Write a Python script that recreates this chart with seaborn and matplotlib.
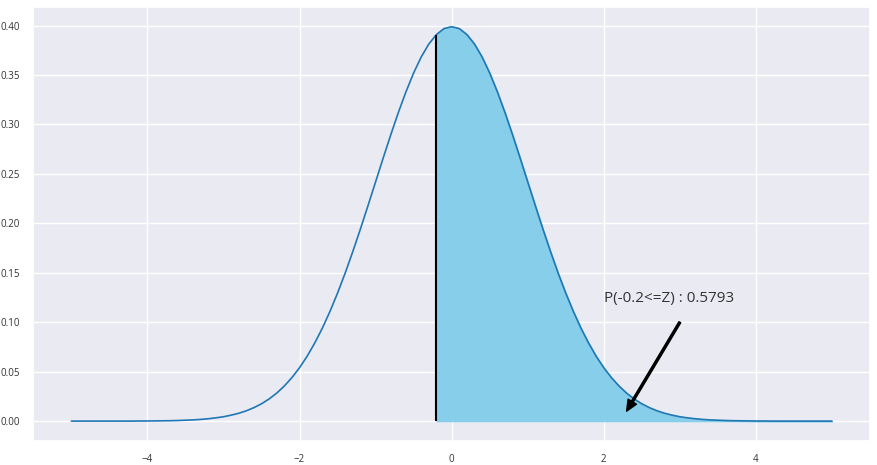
import numpy as np
import pandas as pd
import matplotlib
matplotlib.use("Agg")
import matplotlib.pyplot as plt
import seaborn as sns

# standard normal density, every 0.1
z_values = [round(-5.0 + 0.1 * i, 1) for i in range(101)]
density = [
    0.0000, 0.0000, 0.0000, 0.0000, 0.0000, 0.0000, 0.0000, 0.0000, 0.0000, 0.0001,   # -5.0 .. -4.1
    0.0001, 0.0002, 0.0003, 0.0004, 0.0006, 0.0009, 0.0012, 0.0017, 0.0024, 0.0033,   # -4.0 .. -3.1
    0.0044, 0.0060, 0.0079, 0.0104, 0.0136, 0.0175, 0.0224, 0.0283, 0.0355, 0.0440,   # -3.0 .. -2.1
    0.0540, 0.0656, 0.0790, 0.0940, 0.1109, 0.1295, 0.1497, 0.1714, 0.1942, 0.2179,   # -2.0 .. -1.1
    0.2420, 0.2661, 0.2897, 0.3123, 0.3332, 0.3521, 0.3683, 0.3814, 0.3910, 0.3970,   # -1.0 .. -0.1
    0.3989,                                                                           #  0.0
    0.3970, 0.3910, 0.3814, 0.3683, 0.3521, 0.3332, 0.3123, 0.2897, 0.2661, 0.2420,   #  0.1 .. 1.0
    0.2179, 0.1942, 0.1714, 0.1497, 0.1295, 0.1109, 0.0940, 0.0790, 0.0656, 0.0540,   #  1.1 .. 2.0
    0.0440, 0.0355, 0.0283, 0.0224, 0.0175, 0.0136, 0.0104, 0.0079, 0.0060, 0.0044,   #  2.1 .. 3.0
    0.0033, 0.0024, 0.0017, 0.0012, 0.0009, 0.0006, 0.0004, 0.0003, 0.0002, 0.0001,   #  3.1 .. 4.0
    0.0001, 0.0000, 0.0000, 0.0000, 0.0000, 0.0000, 0.0000, 0.0000, 0.0000, 0.0000,   #  4.1 .. 5.0
]

z_cut = -0.2
prob_label = "P(-0.2<=Z) : 0.5793"
y_ticks = [0.0, 0.05, 0.10, 0.15, 0.20, 0.25, 0.30, 0.35, 0.40]

df = pd.DataFrame({"z": z_values, "pdf": density})
tail = df[df["z"] >= z_cut - 1e-9]
cut_height = df.loc[np.isclose(df["z"], z_cut), "pdf"].iloc[0]

sns.set_theme(style="darkgrid")
plt.rcParams["font.family"] = ["Open Sans", "DejaVu Sans"]

fig, ax = plt.subplots(figsize=(8.77, 4.65), dpi=100)
sns.lineplot(data=df, x="z", y="pdf", color="#1f77b4", linewidth=1.2, ax=ax)
ax.fill_between(tail["z"], tail["pdf"], color="skyblue")
ax.vlines(z_cut, 0, cut_height, color="black", linewidth=1.5)

# arrow only, the label sits above it
ax.annotate("", xy=(2.3, 0.01), xytext=(3, 0.1),
            arrowprops=dict(facecolor="black", edgecolor="black", width=1.5,
                            headwidth=7, headlength=8, shrink=0))
ax.text(2, 0.12, prob_label, fontsize=11, color="#333333")

ax.set_xlabel("")
ax.set_ylabel("")
ax.set_yticks(y_ticks)
ax.set_yticklabels([f"{t:.2f}" for t in y_ticks])
ax.tick_params(labelsize=7, colors="#333333")

plt.subplots_adjust(left=0.038, right=0.992, top=0.985, bottom=0.052)
plt.savefig("out.png")
